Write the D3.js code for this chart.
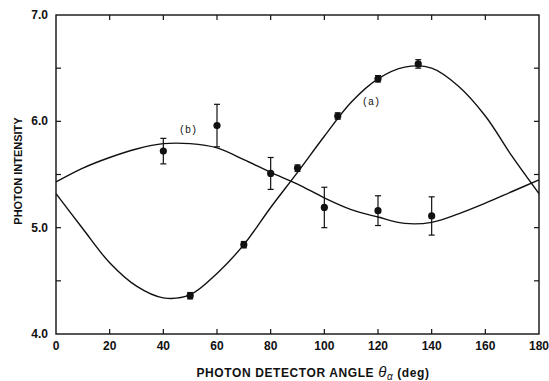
<!DOCTYPE html>
<html>
<head>
<meta charset="utf-8">
<script src="https://cdn.jsdelivr.net/npm/d3@7"></script>
<style>
  body { margin: 0; background: #fff; }
  svg { display: block; }
</style>
</head>
<body>
<svg></svg>
<script>
const WIDTH = 549;
const HEIGHT = 381;
const LEFT = 56;
const RIGHT = 539;
const TOP = 15;
const BOTTOM = 334;

// measured data points: angle, intensity, error
const anglesA = [50, 70, 90, 105, 120, 135];
const valuesA = [4.36, 4.84, 5.56, 6.05, 6.40, 6.54];
const errorsA = [0.03, 0.03, 0.03, 0.03, 0.03, 0.04];

const anglesB = [40, 60, 80, 100, 120, 140];
const valuesB = [5.72, 5.96, 5.51, 5.19, 5.16, 5.11];
const errorsB = [0.12, 0.20, 0.15, 0.19, 0.14, 0.18];

// fitted curves
const curveAngles = [0, 10, 20, 30, 40, 50, 60, 70, 80, 90, 100, 110, 120, 130, 140, 150, 160, 170, 180];
const curveA = [5.32, 4.99, 4.67, 4.45, 4.34, 4.37, 4.57, 4.84, 5.19, 5.52, 5.86, 6.18, 6.40, 6.51, 6.50, 6.33, 6.05, 5.67, 5.32];
const curveB = [5.43, 5.56, 5.66, 5.74, 5.79, 5.79, 5.75, 5.64, 5.52, 5.41, 5.28, 5.17, 5.10, 5.04, 5.05, 5.13, 5.23, 5.34, 5.45];

const xTicks = [0, 20, 40, 60, 80, 100, 120, 140, 160, 180];
const yMajor = [4.0, 5.0, 6.0, 7.0];
const yMinor = [4.5, 5.5, 6.5];

const svg = d3.select("svg").attr("width", WIDTH).attr("height", HEIGHT);

const x = d3.scaleLinear().domain([0, 180]).range([LEFT, RIGHT]);
const y = d3.scaleLinear().domain([4, 7]).range([BOTTOM, TOP]);

const INK = "#111";
const TICK_FONT = "'Liberation Sans', Arial, sans-serif";

// frame
svg.append("rect")
	.attr("x", LEFT).attr("y", TOP)
	.attr("width", RIGHT - LEFT).attr("height", BOTTOM - TOP)
	.attr("fill", "none").attr("stroke", INK).attr("stroke-width", 1.4);

// ticks (inward)
const tickG = svg.append("g").attr("stroke", INK).attr("stroke-width", 1.2);
xTicks.slice(1, -1).forEach(function(t) {
	tickG.append("line").attr("x1", x(t)).attr("x2", x(t)).attr("y1", BOTTOM).attr("y2", BOTTOM - 5);
	tickG.append("line").attr("x1", x(t)).attr("x2", x(t)).attr("y1", TOP).attr("y2", TOP + 5);
});
yMajor.concat(yMinor).forEach(function(t) {
	if (t == 4 || t == 7) return;
	tickG.append("line").attr("x1", LEFT).attr("x2", LEFT + 5).attr("y1", y(t)).attr("y2", y(t));
	tickG.append("line").attr("x1", RIGHT).attr("x2", RIGHT - 5).attr("y1", y(t)).attr("y2", y(t));
});

// tick labels
svg.append("g").selectAll("text")
	.data(xTicks)
	.enter()
	.append("text")
	.attr("x", function(d) { return x(d); })
	.attr("y", 350)
	.attr("text-anchor", "middle")
	.style("font-family", TICK_FONT)
	.style("font-weight", "bold")
	.style("font-size", "12px")
	.attr("fill", INK)
	.text(function(d) { return d; });

svg.append("g").selectAll("text")
	.data(yMajor)
	.enter()
	.append("text")
	.attr("x", 48)
	.attr("y", function(d) { return y(d) + 4; })
	.attr("text-anchor", "end")
	.style("font-family", TICK_FONT)
	.style("font-weight", "bold")
	.style("font-size", "12px")
	.attr("fill", INK)
	.text(function(d) { return d.toFixed(1); });

// axis titles
const xTitle = svg.append("text")
	.attr("x", 313).attr("y", 377)
	.attr("text-anchor", "middle")
	.style("font-family", TICK_FONT)
	.style("font-weight", "bold")
	.style("font-size", "12px")
	.style("letter-spacing", "0.6px")
	.attr("fill", INK);
xTitle.append("tspan").text("PHOTON DETECTOR ANGLE ");
xTitle.append("tspan").style("font-weight", "normal").style("font-style", "italic").style("font-size", "15px").text("θ");
xTitle.append("tspan").attr("dy", 3).style("font-weight", "normal").style("font-style", "italic").style("font-size", "10px").text("α");
xTitle.append("tspan").attr("dy", -3).text(" (deg)");

svg.append("text")
	.attr("transform", "translate(22, 171) rotate(-90)")
	.attr("text-anchor", "middle")
	.style("font-family", TICK_FONT)
	.style("font-weight", "bold")
	.style("font-size", "11px")
	.attr("fill", INK)
	.text("PHOTON INTENSITY");

// curves
const line = d3.line()
	.x(function(d) { return x(d[0]); })
	.y(function(d) { return y(d[1]); })
	.curve(d3.curveCatmullRom.alpha(0.5));

[curveA, curveB].forEach(function(vals) {
	svg.append("path")
		.datum(curveAngles.map(function(a, i) { return [a, vals[i]]; }))
		.attr("d", line)
		.attr("fill", "none")
		.attr("stroke", INK)
		.attr("stroke-width", 1.4);
});

// error bars and points
function drawPoints(angles, values, errors) {
	const g = svg.append("g");
	angles.forEach(function(a, i) {
		const cx = x(a);
		const yTop = y(values[i] + errors[i]);
		const yBot = y(values[i] - errors[i]);
		g.append("line").attr("x1", cx).attr("x2", cx).attr("y1", yTop).attr("y2", yBot)
			.attr("stroke", INK).attr("stroke-width", 1.2);
		g.append("line").attr("x1", cx - 3).attr("x2", cx + 3).attr("y1", yTop).attr("y2", yTop)
			.attr("stroke", INK).attr("stroke-width", 1.2);
		g.append("line").attr("x1", cx - 3).attr("x2", cx + 3).attr("y1", yBot).attr("y2", yBot)
			.attr("stroke", INK).attr("stroke-width", 1.2);
		g.append("circle").attr("cx", cx).attr("cy", y(values[i])).attr("r", 3.6).attr("fill", INK);
	});
}
drawPoints(anglesA, valuesA, errorsA);
drawPoints(anglesB, valuesB, errorsB);

// curve labels
svg.append("text").attr("x", 371).attr("y", 105).attr("text-anchor", "middle")
	.style("font-family", "'Liberation Mono', 'DejaVu Sans Mono', monospace")
	.style("font-size", "10px").attr("fill", INK).text("(a)");
svg.append("text").attr("x", 188).attr("y", 133).attr("text-anchor", "middle")
	.style("font-family", "'Liberation Mono', 'DejaVu Sans Mono', monospace")
	.style("font-size", "10px").attr("fill", INK).text("(b)");
</script>
</body>
</html>
